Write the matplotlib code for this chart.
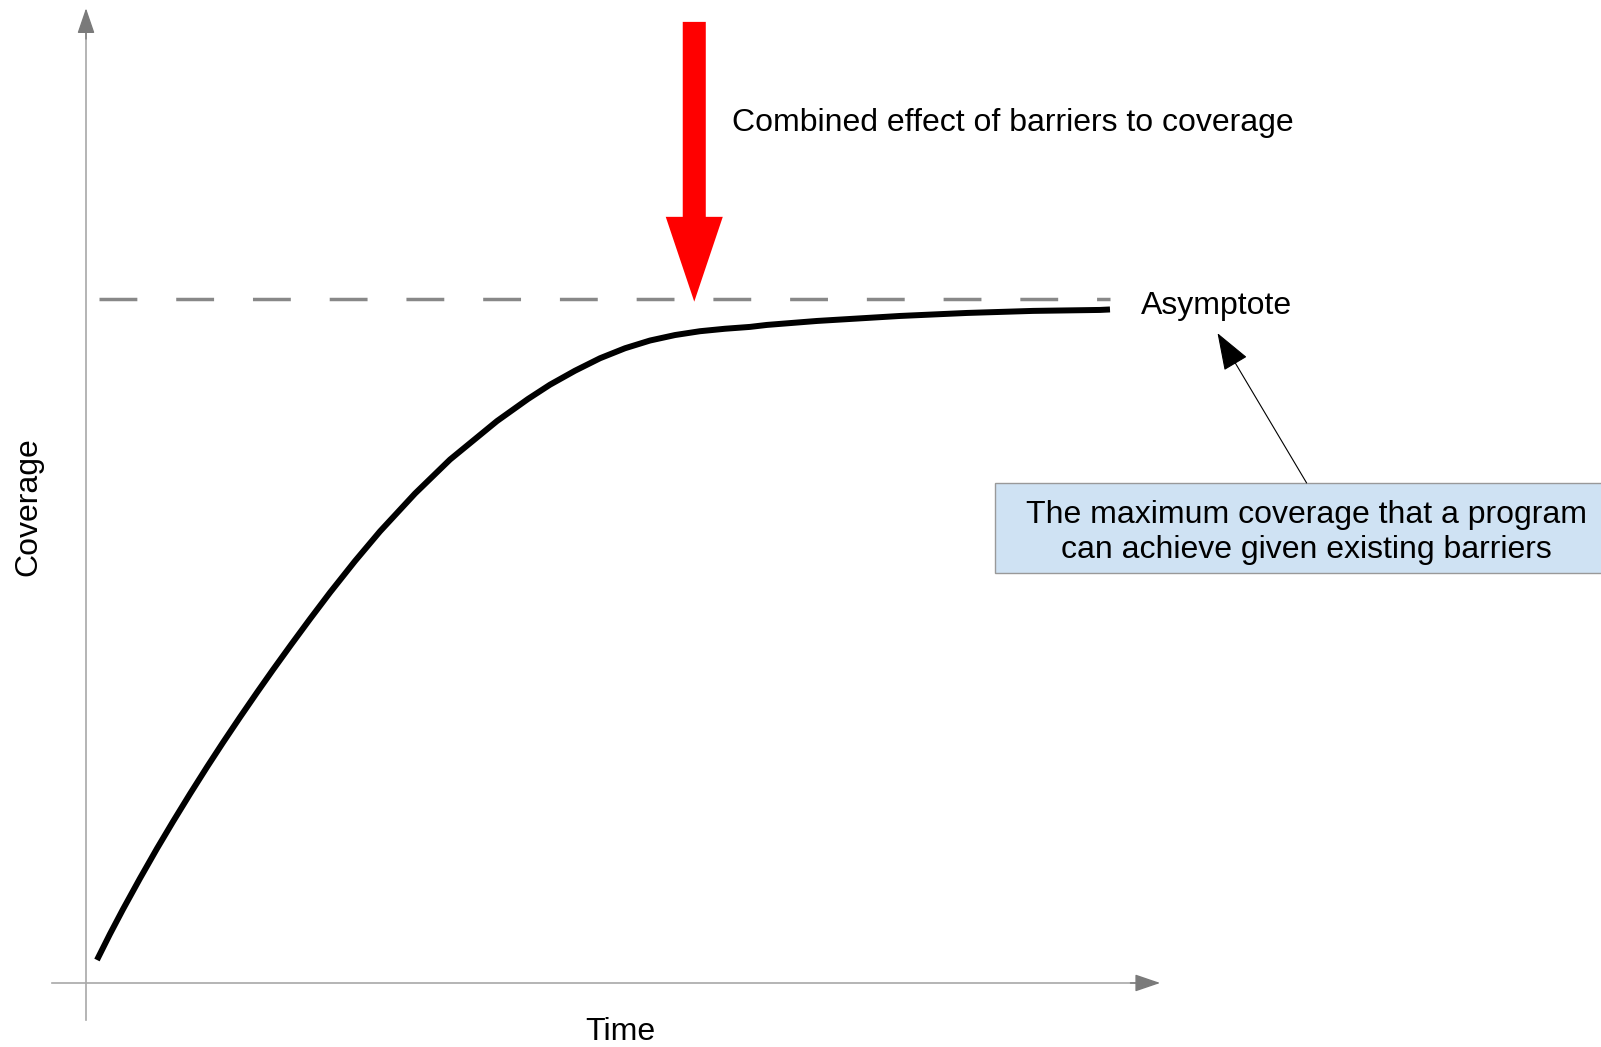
import matplotlib.pyplot as plt
from matplotlib.patches import FancyArrow, Rectangle

plt.rcParams['font.family'] = ['Liberation Sans', 'DejaVu Sans']

# coverage curve (time 0-10, coverage in % of asymptote)
time = [0.107, 0.234, 0.361, 0.527, 0.693, 0.850, 1.016, 1.182, 1.338,
        1.504, 1.670, 1.826, 2.002, 2.188, 2.383, 2.627, 2.871, 3.213,
        3.555, 4.014, 4.316, 4.531, 4.775, 5.020, 5.264, 5.508, 5.752,
        5.996, 6.240, 6.484, 6.650, 7.139, 7.949, 8.604, 9.248, 9.902, 10.0]
coverage = [3.36, 7.16, 10.77, 15.29, 19.65, 23.60, 27.65, 31.58, 35.16,
            38.86, 42.47, 45.79, 49.44, 53.22, 57.08, 61.68, 66.02, 71.55,
            76.52, 82.15, 85.37, 87.46, 89.50, 91.33, 92.79, 93.92, 94.72,
            95.28, 95.64, 95.91, 96.20, 96.78, 97.51, 97.95, 98.25, 98.39, 98.46]
asymptote = 100

fig = plt.figure(figsize=(16.01, 10.47), dpi=100)
ax = fig.add_axes([0, 0, 1, 1])
ax.set_xlim(-0.84, 14.795)
ax.set_ylim(-9.36, 143.7)
ax.axis('off')

# axes with arrow heads
axis_col = '#a8a8a8'
head_col = '#7a7a7a'
ax.plot([0, 0], [-5.4, 140], color=axis_col, lw=1.2)
ax.plot([-0.33, 10.3], [0, 0], color=axis_col, lw=1.2)
ax.annotate('', xy=(0, 142.5), xytext=(0, 138),
            arrowprops=dict(arrowstyle='-|>,head_length=15.8,head_width=5.4',
                            color=head_col, lw=1, mutation_scale=1,
                            shrinkA=0, shrinkB=0))
ax.annotate('', xy=(10.49, 0), xytext=(10.2, 0),
            arrowprops=dict(arrowstyle='-|>,head_length=15.8,head_width=5.4',
                            color=head_col, lw=1, mutation_scale=1,
                            shrinkA=0, shrinkB=0))

# asymptote and curve
ax.plot([0.13, 10.0], [asymptote, asymptote], color='#888888', lw=2.5,
        linestyle=(0, (10.9, 11.2)), dash_capstyle='butt')
ax.plot(time, coverage, color='black', lw=4.3, solid_capstyle='butt',
        solid_joinstyle='round')

# red arrow: combined effect of barriers
ax.add_patch(FancyArrow(5.94, 140.5, 0, -40.9, width=0.225, head_width=0.557,
                        head_length=12.4, length_includes_head=True,
                        color='#ff0000', lw=0))
ax.text(6.31, 124.6, 'Combined effect of barriers to coverage', fontsize=23,
        ha='left', va='baseline')
ax.text(10.30, 97.8, 'Asymptote', fontsize=23, ha='left', va='baseline')

# callout box
ax.add_patch(Rectangle((8.88, 59.94), 7, 13.16, facecolor='#cfe2f3',
                       edgecolor='#999999', lw=1))
ax.text(11.92, 65.85, 'The maximum coverage that a program\ncan achieve given existing barriers',
        fontsize=23, ha='center', va='center', linespacing=1.22)
ax.annotate('', xy=(11.05, 95.0), xytext=(11.92, 73.1),
            arrowprops=dict(arrowstyle='-|>,head_length=23.8,head_width=8.6',
                            color='black', lw=0.8, mutation_scale=1,
                            shrinkA=0, shrinkB=0))

ax.text(5.215, -7.2, 'Time', fontsize=23, ha='center', va='center')
ax.text(-0.566, 69.7, 'Coverage', fontsize=23, ha='center', va='center',
        rotation=90)

fig.savefig('out.png', dpi=100)
